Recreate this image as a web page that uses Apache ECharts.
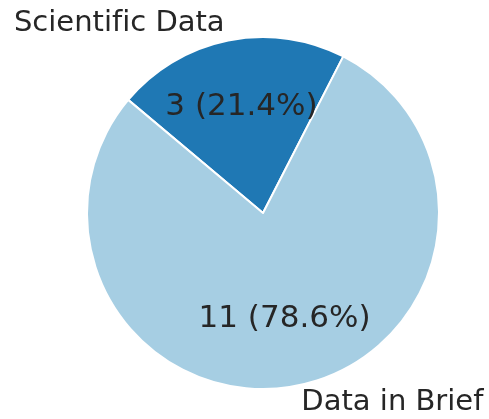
<!DOCTYPE html>
<html>
<head>
<meta charset="utf-8">
<script src="https://cdn.jsdelivr.net/npm/echarts@6/dist/echarts.min.js"></script>
<style>
  html, body { margin: 0; padding: 0; background: #fff; }
  #main { width: 489px; height: 419px; }
</style>
</head>
<body>
<div id="main"></div>
<script>
// journal counts
const journals = ['Scientific Data', 'Data in Brief'];
const counts = [3, 11];
const colors = ['#1f78b4', '#a6cee3'];

const R = 176;          // pie radius in px
const CENTER = [263, 213];
const FONT = 'DejaVu Sans';
const TEXT = '#262626';

let total = counts.reduce((a, b) => a + b, 0)
let data = journals.map((name, i) => ({
    name: name,
    value: counts[i],
    itemStyle: { color: colors[i] }
}))

const chart = echarts.init(document.getElementById('main'));
chart.setOption({
    backgroundColor: '#ffffff',
    animation: false,
    series: [
        {
            // the visible pie, names outside
            type: 'pie',
            center: CENTER,
            radius: [0, R],
            startAngle: 140,
            clockwise: true,
            avoidLabelOverlap: false,
            itemStyle: { borderColor: '#ffffff', borderWidth: 2 },
            label: {
                show: true,
                position: 'outside',
                // break the fi ligature like the reference
                formatter: p => p.name.replace(/fi/g, 'f\u200Ci'),
                fontFamily: FONT,
                fontSize: 29,
                color: TEXT,
                overflow: 'none',
                distanceToLabelLine: 0
            },
            labelLine: { show: false, length: R * 0.1, length2: 0 },
            emphasis: { disabled: true },
            data: data
        },
        {
            // transparent ring so the inside label sits at 0.6 R
            type: 'pie',
            center: CENTER,
            radius: [R * 0.2, R],
            startAngle: 140,
            clockwise: true,
            silent: true,
            avoidLabelOverlap: false,
            itemStyle: { color: 'transparent' },
            label: {
                show: true,
                position: 'inside',
                formatter: function (p) {
                    return p.value + ' (' + (p.value / total * 100).toFixed(1) + '%)'
                },
                fontFamily: FONT,
                fontSize: 31,
                color: TEXT
            },
            labelLine: { show: false },
            emphasis: { disabled: true },
            data: data.map(d => ({ name: d.name, value: d.value }))
        }
    ]
});
</script>
</body>
</html>
